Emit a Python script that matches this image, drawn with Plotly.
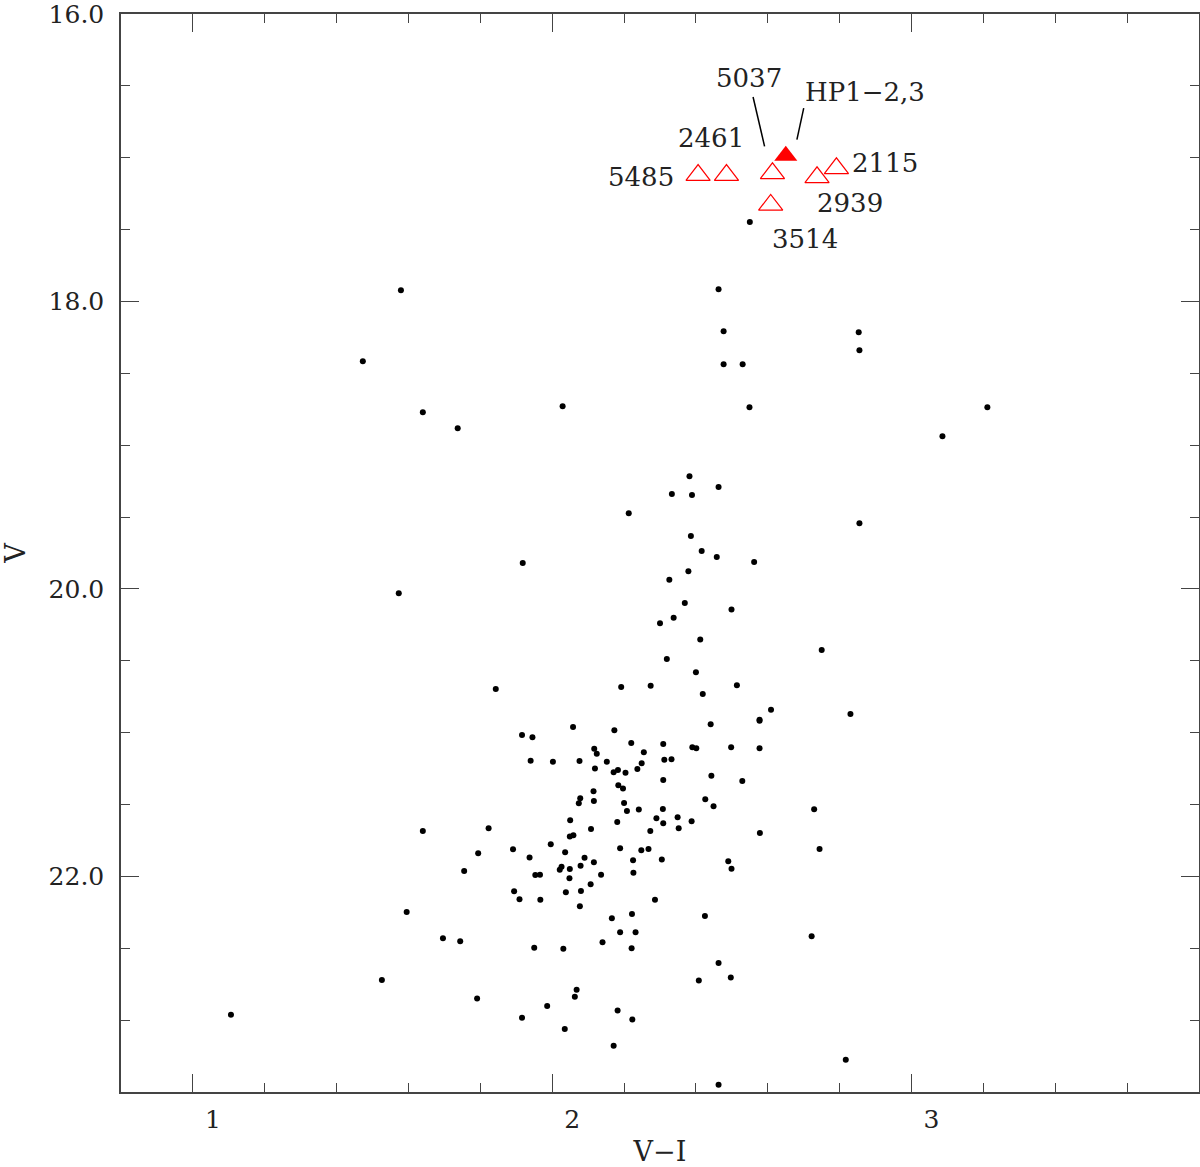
import plotly.graph_objects as go

# Field stars (V-I, V)
field_vi = [2.058, 2.173, 1.916, 1.945, 2.220, 2.117, 2.124, 1.940, 2.002, 2.076,
            2.152, 2.119, 2.171, 2.183, 2.204, 2.115, 2.184, 2.197, 2.078, 2.074,
            2.116, 2.200, 2.208, 2.050, 2.181, 1.823, 2.108, 2.049, 2.059, 1.996,
            1.891, 1.794, 2.189, 1.937, 2.036, 2.090, 2.116, 2.026, 2.021, 2.049,
            2.079, 1.755, 1.953, 1.966, 2.048, 2.136, 2.107, 1.894, 2.038, 2.080,
            1.909, 1.967, 2.077, 2.441, 2.577, 2.309, 2.255, 2.390, 2.401, 2.498,
            2.577, 2.312, 2.332, 2.249, 2.237, 2.309, 2.443, 2.529, 2.241, 2.308,
            2.426, 2.449, 2.729, 2.290, 2.349, 2.309, 2.388, 2.352, 2.273, 2.578,
            2.248, 2.268, 2.225, 2.305, 2.490, 2.499, 2.226, 2.286, 2.744, 2.166,
            2.189, 1.696, 1.744, 1.950, 2.031, 2.140, 2.068, 2.063, 1.791, 1.986,
            2.182, 1.916, 2.035, 2.171, 2.222, 2.425, 2.232, 2.221, 2.722, 2.463,
            2.497, 2.408, 2.223, 2.817, 2.463, 2.382, 2.463, 2.333, 2.389, 2.213,
            2.386, 2.416, 2.458, 2.562, 2.379, 2.326, 2.369, 2.499, 2.338, 2.300,
            2.412, 2.319, 2.400, 2.192, 2.274, 2.514, 2.419, 2.609, 2.577, 2.550,
            2.463, 1.579, 2.477, 2.853, 1.473, 2.477, 2.530, 2.855, 2.029, 2.549,
            3.211, 1.640, 1.737, 3.086, 2.855, 1.918, 1.573, 2.750, 1.843, 2.830,
            1.640, 1.595, 1.526, 1.106]
field_v = [20.960, 20.983, 21.016, 21.032, 21.072, 21.111, 21.146, 21.195, 21.202, 21.197,
           21.202, 21.250, 21.275, 21.259, 21.278, 21.408, 21.366, 21.389, 21.456, 21.491,
           21.475, 21.489, 21.545, 21.609, 21.621, 21.665, 21.670, 21.723, 21.713, 21.776,
           21.811, 21.839, 21.804, 21.869, 21.832, 21.871, 21.901, 21.932, 21.953, 21.948,
           21.925, 21.962, 21.990, 21.988, 22.013, 21.988, 22.054, 22.103, 22.110, 22.101,
           22.159, 22.163, 22.207, 20.942, 20.917, 21.079, 21.136, 21.102, 21.109, 21.102,
           21.109, 21.188, 21.185, 21.213, 21.252, 21.329, 21.299, 21.336, 21.535, 21.531,
           21.463, 21.512, 21.533, 21.595, 21.588, 21.630, 21.616, 21.665, 21.684, 21.698,
           21.818, 21.809, 21.887, 21.883, 21.894, 21.946, 21.974, 22.163, 21.809, 22.291,
           22.388, 22.430, 22.451, 22.497, 22.504, 22.458, 22.789, 22.838, 22.850, 22.901,
           22.933, 22.984, 23.061, 23.179, 22.261, 22.275, 22.388, 22.499, 22.416, 22.602,
           22.704, 22.725, 22.996, 23.276, 23.450, 19.215, 19.291, 19.340, 19.347, 19.474,
           19.632, 19.736, 19.778, 19.813, 19.876, 19.936, 20.098, 20.142, 20.200, 20.239,
           20.351, 20.488, 20.580, 20.682, 20.673, 20.670, 20.731, 20.840, 20.910, 17.446,
           17.915, 17.921, 18.207, 18.214, 18.415, 18.436, 18.436, 18.339, 18.728, 18.735,
           18.735, 18.770, 18.881, 18.937, 19.542, 19.820, 20.029, 20.425, 20.696, 20.870,
           21.684, 22.247, 22.720, 22.963]

# Candidate stars (open triangles)
cand_names = ["5485", "2461", "5037", "2939", "2115", "3514"]
cand_vi = [2.406, 2.485, 2.613, 2.737, 2.791, 2.608]
cand_v = [17.120, 17.120, 17.108, 17.136, 17.073, 17.328]

# HP1-2,3 (filled triangle)
hp_name = "HP1\u22122,3"
hp_vi = [2.650]
hp_v = [16.986]

# Label placement (V-I, V) for each label
lab_text = ["5485", "2461", "5037", hp_name, "2115", "2939", "3514"]
lab_vi = [2.246, 2.443, 2.547, 2.870, 2.925, 2.830, 2.703]
lab_v = [17.136, 16.865, 16.447, 16.541, 17.038, 17.316, 17.565]

# Leader lines: (vi0, v0, vi1, v1)
leaders = [(2.559, 16.577, 2.591, 16.920), (2.700, 16.654, 2.681, 16.874)]

# Axis tick values
x_ticks = [1, 2, 3]
y_ticks = [16.0, 18.0, 20.0, 22.0]

FONT = "DejaVu Serif"
TXT = "#222222"
AX = "#444444"

fig = go.Figure()
fig.add_trace(go.Scatter(x=field_vi, y=field_v, mode="markers",
                         marker=dict(color="black", size=6), hoverinfo="skip"))
fig.add_trace(go.Scatter(x=cand_vi, y=cand_v, mode="markers",
                         marker=dict(symbol="triangle-up-open", size=21, color="#ff0000",
                                     line=dict(width=1.2, color="#ff0000"))))
fig.add_trace(go.Scatter(x=hp_vi, y=hp_v, mode="markers",
                         marker=dict(symbol="triangle-up", size=20, color="#ff0000",
                                     line=dict(width=0))))

for t, xv, yv in zip(lab_text, lab_vi, lab_v):
    fig.add_annotation(x=xv, y=yv, xref="x", yref="y", text=t, showarrow=False,
                       font=dict(family=FONT, size=26, color=TXT))
for (x0, y0, x1, y1) in leaders:
    fig.add_shape(type="line", xref="x", yref="y", x0=x0, y0=y0, x1=x1, y1=y1,
                  line=dict(color="black", width=1.5))

axis_common = dict(showgrid=False, zeroline=False, showline=True, linecolor=AX,
                   linewidth=1.5, mirror="ticks", ticks="inside", ticklen=18,
                   tickcolor=AX, tickwidth=1.3, automargin=False,
                   ticklabeloverflow="allow",
                   tickfont=dict(family=FONT, size=25, color=TXT))

fig.update_xaxes(range=[0.8, 3.8], tickvals=x_ticks, ticktext=[str(v) for v in x_ticks],
                 ticklabelshift=20, ticklabelstandoff=4,
                 minor=dict(dtick=0.2, tick0=1, ticks="inside", ticklen=9,
                            tickcolor=AX, tickwidth=1.3),
                 title=dict(text="V\u2212I", font=dict(family=FONT, size=27, color=TXT),
                            standoff=18),
                 **axis_common)
fig.update_yaxes(range=[23.5, 15.9995], tickvals=y_ticks,
                 ticktext=[f"{v:.1f}" for v in y_ticks], ticklabelstandoff=10,
                 minor=dict(dtick=0.5, tick0=16, ticks="inside", ticklen=9,
                            tickcolor=AX, tickwidth=1.3),
                 title=dict(text="V", font=dict(family=FONT, size=27, color=TXT),
                            standoff=30),
                 **axis_common)

fig.update_layout(width=1200, height=1167, showlegend=False,
                  plot_bgcolor="white", paper_bgcolor="white",
                  margin=dict(l=121, r=1, t=14, b=75))

fig.write_html("out.html", config={"displayModeBar": False},
               post_script="document.body.style.margin='0px';")
